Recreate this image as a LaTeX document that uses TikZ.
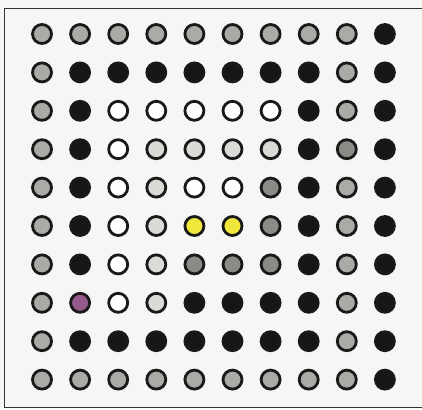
\documentclass[tikz,border=0pt]{standalone}
\usepackage{tikz}
\usetikzlibrary{positioning}
\definecolor{bgpaper}{RGB}{246,246,244}
\definecolor{dotgrayc}{RGB}{170,170,166}
\definecolor{dotlightc}{RGB}{218,218,214}
\definecolor{dotdarkc}{RGB}{138,138,134}
\definecolor{dotblackc}{RGB}{22,22,22}
\definecolor{dotyellowc}{RGB}{240,232,60}
\definecolor{dotpurplec}{RGB}{150,90,140}

\begin{document}
\begin{tikzpicture}[x=1pt, y=-1pt,
    dot/.style={circle, draw=black!90, line width=2.8pt, minimum size=19pt, inner sep=0pt},
    dotgray/.style={dot, fill=dotgrayc},
    dotlight/.style={dot, fill=dotlightc},
    dotdark/.style={dot, fill=dotdarkc},
    dotblack/.style={dot, fill=dotblackc},
    dotwhite/.style={dot, fill=white},
    dotyellow/.style={dot, fill=dotyellowc},
    dotpurple/.style={dot, fill=dotpurplec},
    frameline/.style={draw=black!80, line width=1pt}
]

%% ---- PAPER AND FRAME ----
\fill [bgpaper] (0,0) rectangle (422,409);
\useasboundingbox (0,0) rectangle (422,409);
\coordinate (tr) at (422,9);
\coordinate (tl) at (4,9);
\coordinate (bl) at (4,407);
\coordinate (br) at (422,407);
\draw [frameline] (tr) -- (tl) -- (bl) -- (br);

%% ---- 10 x 10 DOT GRID (rows top-to-bottom) ----
\foreach \row [count=\r] in {
    {dotgray,dotgray,dotgray,dotgray,dotgray,dotgray,dotgray,dotgray,dotgray,dotblack},
    {dotgray,dotblack,dotblack,dotblack,dotblack,dotblack,dotblack,dotblack,dotgray,dotblack},
    {dotgray,dotblack,dotwhite,dotwhite,dotwhite,dotwhite,dotwhite,dotblack,dotgray,dotblack},
    {dotgray,dotblack,dotwhite,dotlight,dotlight,dotlight,dotlight,dotblack,dotdark,dotblack},
    {dotgray,dotblack,dotwhite,dotlight,dotwhite,dotwhite,dotdark,dotblack,dotgray,dotblack},
    {dotgray,dotblack,dotwhite,dotlight,dotyellow,dotyellow,dotdark,dotblack,dotgray,dotblack},
    {dotgray,dotblack,dotwhite,dotlight,dotdark,dotdark,dotdark,dotblack,dotgray,dotblack},
    {dotgray,dotpurple,dotwhite,dotlight,dotblack,dotblack,dotblack,dotblack,dotgray,dotblack},
    {dotgray,dotblack,dotblack,dotblack,dotblack,dotblack,dotblack,dotblack,dotgray,dotblack},
    {dotgray,dotgray,dotgray,dotgray,dotgray,dotgray,dotgray,dotgray,dotgray,dotblack}}
{
    \foreach \s [count=\c] in \row
        \node [\s] (d-\r-\c) at ({42+38.1*(\c-1)}, {34+38.4*(\r-1)}) {};
}

\end{tikzpicture}
\end{document}
